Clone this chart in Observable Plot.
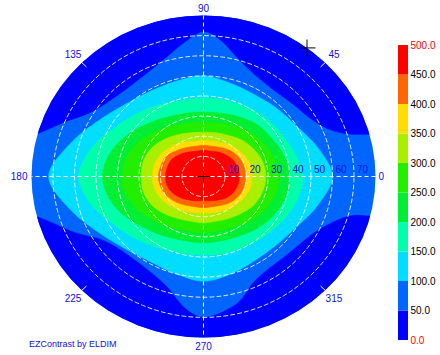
<!DOCTYPE html>
<html><head><meta charset="utf-8">
<script src="https://cdn.jsdelivr.net/npm/d3@7"></script>
<script src="https://cdn.jsdelivr.net/npm/@observablehq/plot@0.6"></script>
<style>
body{margin:0;background:#fff;}
#wrap{position:relative;width:440px;height:355px;overflow:hidden;}
#wrap svg{position:absolute;left:0;top:0;}
#foot{position:absolute;left:29px;top:339px;font:9px "Liberation Sans",Arial,sans-serif;color:#1010e0;}
</style></head><body><div id="wrap"><div id="foot">EZContrast by ELDIM</div></div>
<script>
// ---- data ----
const levels = [0, 50, 100, 150, 200, 250, 300, 350, 400, 450];
const bandColors = ["#0000ff", "#0066ff", "#00ddff", "#00ffaa", "#00ee33", "#22ee00", "#aaee00", "#ffdd00", "#ff6600", "#ff0000"];
const barTicks = [0, 50, 100, 150, 200, 250, 300, 350, 400, 450, 500];
const ringAngles = [10, 20, 30, 40, 50, 60, 70];
const azimuthLabels = [0, 45, 90, 135, 180, 225, 270, 315];
const azimuths = [0,15,30,45,60,75,90,105,120,135,150,165,180,195,210,225,240,255,270,285,300,315,330,345];
// polar angle (deg) of each iso-luminance boundary at each azimuth
const contour100 = [60,55,50,48,47,48,50,49,49,51,56,64,72,64,56,51,49,50,52,50,48,48,50,55];
const contour150 = [46,44,42,41,40,39,39,39,41,44,48,54,58,54,48,44,41,39.5,39,39.5,40,41,43,45];
const contour200 = [40,39,37,36,34,32.5,32,32.5,34,37,41,45,47,45,41,37,34.5,33,33,33,34,36,38,39.5];
const contour250 = [35,34,32.5,31,29,27.5,27,27.5,29,31.5,34.5,37,38,37,34.5,31.5,29.5,28,28,28,29,31,33,34.5];
const contour300 = [29,28.5,27,25.5,23.5,22.5,22,22.5,24,26,28,29,29,29,28,26,24,23,23,23,24,25.5,27.5,28.5];
const contour350 = [22.5,22.5,21.5,20.5,19,18,18,18,19.5,21,22.5,23.5,23.7,23.5,22.5,21,19.5,18.5,18,18.5,19.5,20.5,21.5,22.5];
const contour400 = [19.5,19.5,19,18,16.5,15.5,15.5,15.5,16.5,18,20,20.5,21,20.5,19.5,18,16.5,15.5,15.5,15.5,16.5,18,19,19.5];
const contour450 = [16.7,16.5,16,15,14,13,13,13,14,15.5,17,17.5,17.7,17.5,16.5,15,13.5,12.5,12,12.5,13.5,15,16,16.5];
// dark-blue (< 50) areas: [azimuth, polar angle] along their inner edge
const lobeTop = [[15,81],[17,72],[21,64],[29,58],[41,55],[53,54],[65,56],[75,61],[83,68],[90,72],[98,67],[110,60],[130,56.5],[148,61],[158,71],[165,81]];
const lobeBottom = [[194,81],[205,66],[215,56],[235,52.5],[252,57],[263,66.5],[270,70],[284,65],[295,57],[315,55],[334,60],[344,71],[346,81]];
const cursorMarks = [[0,0],[53,80]];

// ---- build ----
const rad = Math.PI / 180;
const P = (phi, t) => ({x: t * Math.cos(phi * rad), y: t * Math.sin(phi * rad)});
const edge = 80;
const bands = [];
for (let a = 0; a < 360; a += 5) bands.push({key: "disc", level: 50, ...P(a, edge + 4)});
function addLobe(key, pts) {
  pts.forEach(([a, t]) => bands.push({key, level: 0, ...P(a, t)}));
  const a0 = pts[0][0], a1 = pts[pts.length - 1][0];
  for (let k = 0; k <= 6; k++) { const a = a1 + 3 - (a1 - a0 + 6) * k / 6; bands.push({key, level: 0, ...P(a, edge + 12)}); }
}
addLobe("top", lobeTop);
addLobe("bottom", lobeBottom);
[[100, contour100],[150, contour150],[200, contour200],[250, contour250],[300, contour300],[350, contour350],[400, contour400],[450, contour450]]
  .forEach(([lv, arr]) => arr.forEach((t, i) => bands.push({key: "c" + lv, level: lv, ...P(azimuths[i], t)})));

const rings = [];
ringAngles.forEach(r => { for (let a = 0; a < 360; a += 2) rings.push({r, ...P(a, r)}); });
const spokes = [0, 90].map(a => { const p = P(a, edge), q = P(a + 180, edge); return {x1: p.x, y1: p.y, x2: q.x, y2: q.y}; });
const diagTicks = [45, 135, 225, 315].map(a => { const p = P(a, edge - 3), q = P(a, edge + 0.5); return {x1: p.x, y1: p.y, x2: q.x, y2: q.y}; });
const axisLab = azimuthLabels.filter(a => a % 90 === 0).map(a => ({text: String(a), ...P(a, edge)}));
const diagLab = azimuthLabels.filter(a => a % 90 !== 0).map(a => ({text: String(a), ...P(a, edge + 5.8)}));
const ringLab = ringAngles.map(r => ({text: String(r), x: r, y: 0}));
const marks = cursorMarks.map(([a, t]) => P(a, t));

const font = '"Liberation Sans", Arial, sans-serif';
const color = {type: "threshold", domain: levels.slice(1), range: bandColors};
const labBlue = "#1010e0";
const main = Plot.plot({
  width: 440, height: 355,
  marginLeft: 31, marginRight: 65, marginTop: 15, marginBottom: 18,
  x: {domain: [-80, 80], axis: null},
  y: {domain: [-80, 80], axis: null},
  color,
  style: {fontFamily: font, fontSize: "10px", background: "transparent", overflow: "visible"},
  marks: [
    Plot.line(bands, {x: "x", y: "y", z: "key", fill: "level", stroke: "level", strokeWidth: 0.6, curve: "catmull-rom-closed", ariaDescription: "bands"}),
    Plot.line(rings, {x: "x", y: "y", z: "r", stroke: "white", strokeWidth: 1, strokeDasharray: "4,3", curve: "linear-closed", strokeOpacity: 0.85}),
    Plot.link(spokes, {x1: "x1", y1: "y1", x2: "x2", y2: "y2", stroke: "white", strokeWidth: 1, strokeDasharray: "4,3"}),
    Plot.link(diagTicks, {x1: "x1", y1: "y1", x2: "x2", y2: "y2", stroke: "white", strokeWidth: 1}),
    Plot.dot(marks.slice(0, 1), {x: "x", y: "y", symbol: "plus", r: 4, stroke: "black", strokeWidth: 1}),
    Plot.dot(marks.slice(1), {x: "x", y: "y", symbol: "plus", r: 5.5, stroke: "black", strokeWidth: 1}),
    Plot.text(axisLab.filter(d => d.text === "0"), {x: "x", y: "y", text: "text", fill: labBlue, textAnchor: "start", dx: 3}),
    Plot.text(axisLab.filter(d => d.text === "180"), {x: "x", y: "y", text: "text", fill: labBlue, textAnchor: "end", dx: -4}),
    Plot.text(axisLab.filter(d => d.text === "90"), {x: "x", y: "y", text: "text", fill: labBlue, dy: -7}),
    Plot.text(axisLab.filter(d => d.text === "270"), {x: "x", y: "y", text: "text", fill: labBlue, dy: 9}),
    Plot.text(diagLab, {x: "x", y: "y", text: "text", fill: labBlue}),
    Plot.text(ringLab, {x: "x", y: "y", text: "text", fill: labBlue, textAnchor: "start", dx: 3, dy: -7})
  ]
});
const sx = main.scale("x"), sy = main.scale("y");
const cx = sx.apply(0), cy = sy.apply(0), rx = sx.apply(edge) - cx, ry = cy - sy.apply(edge);
const ns = "http://www.w3.org/2000/svg";
const defs = document.createElementNS(ns, "defs");
const cp = document.createElementNS(ns, "clipPath"); cp.setAttribute("id", "disc");
const el = document.createElementNS(ns, "ellipse");
el.setAttribute("cx", cx); el.setAttribute("cy", cy); el.setAttribute("rx", rx); el.setAttribute("ry", ry);
cp.append(el); defs.append(cp); main.prepend(defs);
main.querySelectorAll('[aria-description="bands"]').forEach(g => g.setAttribute("clip-path", "url(#disc)"));

const barData = levels.map(lo => ({lo, hi: lo + 50}));
const bar = Plot.plot({
  width: 440, height: 355,
  marginLeft: 398, marginRight: 32, marginTop: 45, marginBottom: 15,
  x: {domain: [0, 1], axis: null},
  y: {domain: [0, 500], axis: null},
  color,
  style: {fontFamily: font, fontSize: "10px", background: "transparent", overflow: "visible"},
  marks: [
    Plot.rect(barData, {x1: () => 0, x2: () => 1, y1: "lo", y2: "hi", fill: "lo"}),
    Plot.text(barTicks.filter(d => d > 0 && d < 500), {x: () => 1, y: d => d, text: d => d.toFixed(1), textAnchor: "start", dx: 2, fill: "black", fontSize: 10}),
    Plot.text(barTicks.filter(d => d === 0 || d === 500), {x: () => 1, y: d => d, text: d => d.toFixed(1), textAnchor: "start", dx: 2, fill: "#ff0000", fontSize: 10})
  ]
});
const wrap = document.getElementById("wrap");
wrap.prepend(bar);
wrap.prepend(main);
</script></body></html>
